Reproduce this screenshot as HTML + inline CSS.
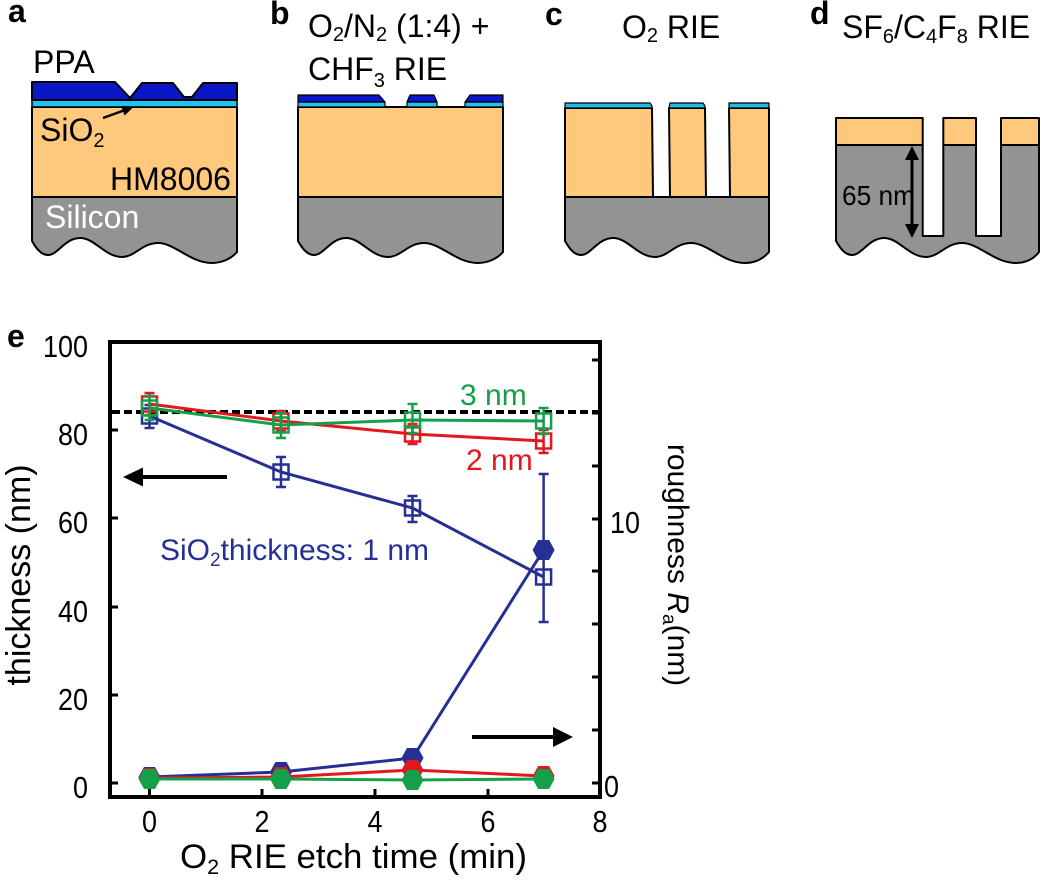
<!DOCTYPE html>
<html><head><meta charset="utf-8"><style>
html,body{margin:0;padding:0;background:#fff;}
svg{display:block;font-family:"Liberation Sans",Arial,sans-serif;}
</style></head><body>
<svg width="1044" height="882" viewBox="0 0 1044 882" xmlns="http://www.w3.org/2000/svg">
<!-- ===== Panel a ===== -->
<g stroke="#000" stroke-width="2" stroke-linejoin="round">
  <path d="M32,197 H237 V252 C230,260 220,263 212,263 C190,263 175,243 158,243 C142,243 135,257 122,257 C105,257 95,238 80,238 C65,238 58,255 48,255 C40,255 35,246 32,241 Z" fill="#939393"/>
  <rect x="32" y="107" width="205" height="90" fill="#fec97c"/>
  <rect x="32" y="100" width="205" height="7" fill="#21c2f0" stroke-width="1.5"/>
  <polygon points="32,82 115,82 130,98 142,83 173,83 184,97 192,97 203,83 237,83 237,100 32,100" fill="#0a17c6"/>
</g>
<text x="8" y="22" font-size="32" font-weight="bold">a</text>
<text x="33" y="73" font-size="32">PPA</text>
<text x="40" y="141" font-size="32">SiO<tspan font-size="20" dy="6">2</tspan></text>
<text x="110" y="190" font-size="32">HM8006</text>
<text x="45" y="228" font-size="32" fill="#fff">Silicon</text>
<line x1="103" y1="118" x2="125" y2="110" stroke="#000" stroke-width="2.5"/>
<polygon points="134,106.5 124.6,115.5 121,106" fill="#000"/>

<!-- ===== Panel b ===== -->
<g transform="translate(266,0)" stroke="#000" stroke-width="2" stroke-linejoin="round">
  <path d="M32,197 H237 V252 C230,260 220,263 212,263 C190,263 175,243 158,243 C142,243 135,257 122,257 C105,257 95,238 80,238 C65,238 58,255 48,255 C40,255 35,246 32,241 Z" fill="#939393"/>
  <rect x="32" y="107" width="205" height="90" fill="#fec97c"/>
  <rect x="32" y="102" width="87" height="5" fill="#21c2f0" stroke-width="1.2"/>
  <rect x="141" y="102" width="30" height="5" fill="#21c2f0" stroke-width="1.2"/>
  <rect x="199" y="102" width="38" height="5" fill="#21c2f0" stroke-width="1.2"/>
  <polygon points="32,102 32,95 113,95 119,102" fill="#0a17c6" stroke-width="1.2"/>
  <polygon points="141,102 144,95 168,95 171,102" fill="#0a17c6" stroke-width="1.2"/>
  <polygon points="199,102 204,95 237,95 237,102" fill="#0a17c6" stroke-width="1.2"/>
</g>
<text x="270" y="24" font-size="32" font-weight="bold">b</text>
<text x="308" y="37" font-size="32">O<tspan font-size="20" dy="4">2</tspan><tspan dy="-4">/N</tspan><tspan font-size="20" dy="4">2</tspan><tspan dy="-4"> (1:4) +</tspan></text>
<text x="308" y="80" font-size="32">CHF<tspan font-size="20" dy="7">3</tspan><tspan dy="-7"> RIE</tspan></text>

<!-- ===== Panel c ===== -->
<g transform="translate(533,0)" stroke="#000" stroke-width="2" stroke-linejoin="round">
  <path d="M32,197 H236 V252 C229,260 220,263 212,263 C190,263 175,243 158,243 C142,243 135,257 122,257 C105,257 95,238 80,238 C65,238 58,255 48,255 C40,255 35,246 32,241 Z" fill="#939393"/>
  <polygon points="32,108 119,108 120,197 32,197" fill="#fec97c"/>
  <polygon points="136,108 172,108 173,197 137,197" fill="#fec97c"/>
  <polygon points="196,108 236,108 236,197 197,197" fill="#fec97c"/>
  <polygon points="32,103 117,103 119,106 119,108 32,108" fill="#21b9e6" stroke-width="1.2"/>
  <polygon points="137,103 170,103 172,106 172,108 136,108" fill="#21b9e6" stroke-width="1.2"/>
  <polygon points="196,103 236,103 236,108 196,108" fill="#21b9e6" stroke-width="1.2"/>
</g>
<text x="545" y="25" font-size="32" font-weight="bold">c</text>
<text x="622" y="38" font-size="32">O<tspan font-size="20" dy="4">2</tspan><tspan dy="-4"> RIE</tspan></text>

<!-- ===== Panel d ===== -->
<g transform="translate(804,0)" stroke="#000" stroke-width="2" stroke-linejoin="round">
  <path d="M32,145 H118.7 V236 H139.3 V145 H172 V236 H197 V145 H235 V252 C229,260 220,263 212,263 C190,263 175,243 158,243 C142,243 135,257 122,257 C105,257 95,238 80,238 C65,238 58,255 48,255 C40,255 35,246 32,241 Z" fill="#939393"/>
  <rect x="32" y="118" width="86.7" height="27" fill="#fec97c"/>
  <rect x="139.3" y="118" width="32.7" height="27" fill="#fec97c"/>
  <rect x="197" y="118" width="38" height="27" fill="#fec97c"/>
</g>
<text x="810" y="24" font-size="32" font-weight="bold">d</text>
<text x="842" y="38" font-size="32">SF<tspan font-size="20" dy="5">6</tspan><tspan dy="-5">/C</tspan><tspan font-size="20" dy="5">4</tspan><tspan dy="-5">F</tspan><tspan font-size="20" dy="5">8</tspan><tspan dy="-5"> RIE</tspan></text>
<text x="842" y="205" font-size="28" textLength="73" lengthAdjust="spacingAndGlyphs">65 nm</text>
<line x1="912" y1="158" x2="912" y2="226" stroke="#000" stroke-width="3"/>
<polygon points="912,146 905,160 919,160" fill="#000"/>
<polygon points="912,238 905,224 919,224" fill="#000"/>

<!-- ===== Panel e ===== -->
<text x="7" y="347" font-size="32" font-weight="bold">e</text>

<!-- dashed reference -->
<line x1="112" y1="412" x2="598" y2="412" stroke="#000" stroke-width="4" stroke-dasharray="8 4"/>

<!-- roughness series -->
<g stroke-width="3" fill="none">
  <polyline points="149.5,777 281,772 412.5,758 543.6,550" stroke="#262f93"/>
  <polyline points="149.5,778 281,777 412.5,770 543.6,776" stroke="#e3181e"/>
  <polyline points="149.5,779 281,779 412.5,780 543.6,779" stroke="#14a04a"/>
</g>
<g fill="#262f93">
  <polygon points="138.5,777 144,767 155,767 160.5,777 155,787 144,787"/>
  <polygon points="270,772 275.5,762 286.5,762 292,772 286.5,782 275.5,782"/>
  <polygon points="401.5,758 407,748 418,748 423.5,758 418,768 407,768"/>
  <polygon points="532.6,550 538.1,540 549.1,540 554.6,550 549.1,560 538.1,560"/>
</g>
<g fill="#e3181e">
  <polygon points="138.5,778 144,768 155,768 160.5,778 155,788 144,788"/>
  <polygon points="270,777 275.5,767 286.5,767 292,777 286.5,787 275.5,787"/>
  <polygon points="401.5,770 407,760 418,760 423.5,770 418,780 407,780"/>
  <polygon points="532.6,776 538.1,766 549.1,766 554.6,776 549.1,786 538.1,786"/>
</g>
<g fill="#14a04a">
  <polygon points="138.5,779 144,769 155,769 160.5,779 155,789 144,789"/>
  <polygon points="270,779 275.5,769 286.5,769 292,779 286.5,789 275.5,789"/>
  <polygon points="401.5,780 407,770 418,770 423.5,780 418,790 407,790"/>
  <polygon points="532.6,779 538.1,769 549.1,769 554.6,779 549.1,789 538.1,789"/>
</g>

<!-- thickness series: blue -->
<g stroke="#262f93" stroke-width="2.5" fill="none">
  <polyline points="149.5,416 281,472 412.5,508 543.6,577" stroke-width="3"/>
  <path d="M149.5,405V428 M144.5,405H154.5 M144.5,428H154.5"/>
  <path d="M281,457V487 M276,457H286 M276,487H286"/>
  <path d="M412.5,496V522 M407.5,496H417.5 M407.5,522H417.5"/>
  <path d="M543.6,474V622 M538.6,474H548.6 M538.6,622H548.6"/>
  <rect x="142" y="408.5" width="15" height="15"/>
  <rect x="273.5" y="464.5" width="15" height="15"/>
  <rect x="405" y="500.5" width="15" height="15"/>
  <rect x="536.1" y="569.5" width="15" height="15"/>
</g>
<!-- red -->
<g stroke="#e3181e" stroke-width="2.5" fill="none">
  <polyline points="149.5,404 281,421 412.5,434 543.6,441" stroke-width="3"/>
  <path d="M149.5,393V415 M144.5,393H154.5 M144.5,415H154.5"/>
  <path d="M281,411V431 M276,411H286 M276,431H286"/>
  <path d="M412.5,424V444 M407.5,424H417.5 M407.5,444H417.5"/>
  <path d="M543.6,430V453 M538.6,430H548.6 M538.6,453H548.6"/>
  <rect x="142" y="396.5" width="15" height="15"/>
  <rect x="273.5" y="413.5" width="15" height="15"/>
  <rect x="405" y="426.5" width="15" height="15"/>
  <rect x="536.1" y="433.5" width="15" height="15"/>
</g>
<!-- green -->
<g stroke="#14a04a" stroke-width="2.5" fill="none">
  <polyline points="149.5,408 281,425 412.5,420 543.6,421" stroke-width="3"/>
  <path d="M149.5,396V420 M144.5,396H154.5 M144.5,420H154.5"/>
  <path d="M281,413V438 M276,413H286 M276,438H286"/>
  <path d="M412.5,404V433 M407.5,404H417.5 M407.5,433H417.5"/>
  <path d="M543.6,408V434 M538.6,408H548.6 M538.6,434H548.6"/>
  <rect x="142" y="400.5" width="15" height="15"/>
  <rect x="273.5" y="417.5" width="15" height="15"/>
  <rect x="405" y="412.5" width="15" height="15"/>
  <rect x="536.1" y="413.5" width="15" height="15"/>
</g>

<!-- frame -->
<rect x="110" y="342" width="490" height="455" fill="none" stroke="#000" stroke-width="4"/>
<g stroke="#000" stroke-width="3">
  <line x1="110" y1="430" x2="118" y2="430"/>
  <line x1="110" y1="518" x2="118" y2="518"/>
  <line x1="110" y1="607" x2="118" y2="607"/>
  <line x1="110" y1="695" x2="118" y2="695"/>
  <line x1="110" y1="783" x2="118" y2="783"/>
  <line x1="600" y1="783" x2="592" y2="783"/>
  <line x1="600" y1="730" x2="592" y2="730"/>
  <line x1="600" y1="677" x2="592" y2="677"/>
  <line x1="600" y1="624" x2="592" y2="624"/>
  <line x1="600" y1="571" x2="592" y2="571"/>
  <line x1="600" y1="519" x2="592" y2="519"/>
  <line x1="600" y1="466" x2="592" y2="466"/>
  <line x1="600" y1="413" x2="592" y2="413"/>
  <line x1="600" y1="360" x2="592" y2="360"/>
  <line x1="149.5" y1="797" x2="149.5" y2="789"/>
  <line x1="262" y1="797" x2="262" y2="789"/>
  <line x1="375" y1="797" x2="375" y2="789"/>
  <line x1="488" y1="797" x2="488" y2="789"/>
</g>

<!-- tick labels -->
<g font-size="31" fill="#000" lengthAdjust="spacingAndGlyphs">
  <text x="43" y="357" textLength="45" lengthAdjust="spacingAndGlyphs">100</text>
  <text x="58" y="445" textLength="30" lengthAdjust="spacingAndGlyphs">80</text>
  <text x="58" y="533" textLength="30" lengthAdjust="spacingAndGlyphs">60</text>
  <text x="58" y="622" textLength="30" lengthAdjust="spacingAndGlyphs">40</text>
  <text x="58" y="710" textLength="30" lengthAdjust="spacingAndGlyphs">20</text>
  <text x="73" y="798" textLength="15" lengthAdjust="spacingAndGlyphs">0</text>
  <text x="142" y="832" textLength="15" lengthAdjust="spacingAndGlyphs">0</text>
  <text x="254.5" y="832" textLength="15" lengthAdjust="spacingAndGlyphs">2</text>
  <text x="367.5" y="832" textLength="15" lengthAdjust="spacingAndGlyphs">4</text>
  <text x="480.5" y="832" textLength="15" lengthAdjust="spacingAndGlyphs">6</text>
  <text x="592.5" y="832" textLength="15" lengthAdjust="spacingAndGlyphs">8</text>
  <text x="610" y="533" textLength="30" lengthAdjust="spacingAndGlyphs">10</text>
  <text x="604" y="797" textLength="15" lengthAdjust="spacingAndGlyphs">0</text>
</g>

<!-- axis titles -->
<text transform="translate(30,575) rotate(-90)" text-anchor="middle" font-size="34">thickness (nm)</text>
<text transform="translate(668,565) rotate(90)" text-anchor="middle" font-size="30">roughness <tspan font-style="italic">R</tspan><tspan font-size="19" dy="5">a</tspan><tspan dy="-5">(nm)</tspan></text>
<text x="180" y="868" font-size="34" textLength="347" lengthAdjust="spacingAndGlyphs">O<tspan font-size="21" dy="6">2</tspan><tspan dy="-6"> RIE etch time (min)</tspan></text>

<!-- annotations -->
<text x="160" y="560" font-size="30" fill="#262f93">SiO<tspan font-size="19" dy="6">2</tspan><tspan dy="-6">thickness: 1 nm</tspan></text>
<text x="460" y="405" font-size="30" fill="#14a04a">3 nm</text>
<text x="466" y="470" font-size="30" fill="#e3181e">2 nm</text>

<!-- arrows -->
<line x1="227" y1="477" x2="140" y2="477" stroke="#000" stroke-width="4"/>
<polygon points="123,477 143,467.5 143,486.5" fill="#000"/>
<line x1="472" y1="737" x2="556" y2="737" stroke="#000" stroke-width="4"/>
<polygon points="573,737 553,727 553,747" fill="#000"/>
</svg>
</body></html>
